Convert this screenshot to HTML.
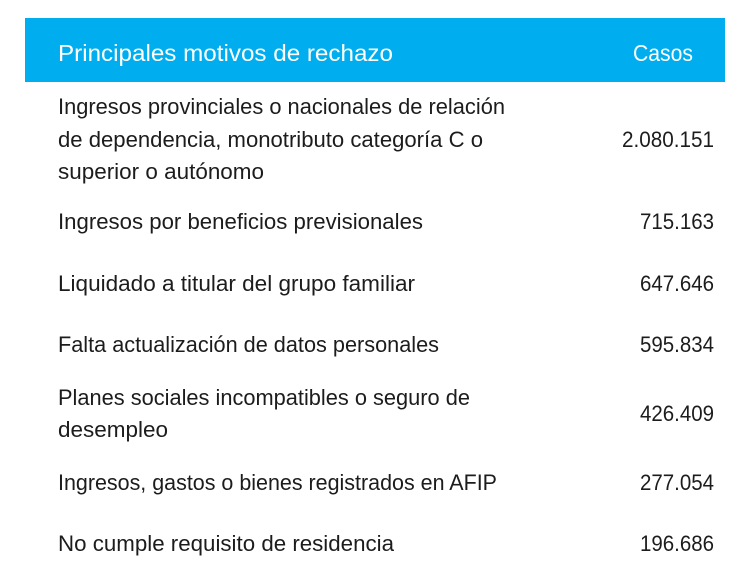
<!DOCTYPE html>
<html><head><meta charset="utf-8"><style>
html,body{margin:0;padding:0;background:#fff;}
svg{display:block;}
text{font-family:"Liberation Sans",sans-serif;font-size:22px;fill:#1c1c1c;}
</style></head><body>
<svg width="750" height="583" viewBox="0 0 750 583">
<rect x="0" y="0" width="750" height="583" fill="#fff"/>
<rect x="25" y="18" width="700" height="64" fill="#00aeef"/>
<text x="58" y="61" textLength="335" lengthAdjust="spacingAndGlyphs" style="fill:#fff;font-size:23px">Principales motivos de rechazo</text>
<text x="633" y="61" textLength="60" lengthAdjust="spacingAndGlyphs" style="fill:#fff;font-size:23px">Casos</text>

<text x="58" y="114" textLength="447" lengthAdjust="spacingAndGlyphs">Ingresos provinciales o nacionales de relación</text>
<text x="58" y="147" textLength="425" lengthAdjust="spacingAndGlyphs">de dependencia, monotributo categoría C o</text>
<text x="58" y="179" textLength="206" lengthAdjust="spacingAndGlyphs">superior o autónomo</text>
<text x="622" y="147" textLength="92" lengthAdjust="spacingAndGlyphs">2.080.151</text>

<text x="58" y="229" textLength="365" lengthAdjust="spacingAndGlyphs">Ingresos por beneficios previsionales</text>
<text x="640" y="229" textLength="74" lengthAdjust="spacingAndGlyphs">715.163</text>

<text x="58" y="291" textLength="357" lengthAdjust="spacingAndGlyphs">Liquidado a titular del grupo familiar</text>
<text x="640" y="291" textLength="74" lengthAdjust="spacingAndGlyphs">647.646</text>

<text x="58" y="352" textLength="381" lengthAdjust="spacingAndGlyphs">Falta actualización de datos personales</text>
<text x="640" y="352" textLength="74" lengthAdjust="spacingAndGlyphs">595.834</text>

<text x="58" y="405" textLength="412" lengthAdjust="spacingAndGlyphs">Planes sociales incompatibles o seguro de</text>
<text x="58" y="437" textLength="110" lengthAdjust="spacingAndGlyphs">desempleo</text>
<text x="640" y="421" textLength="74" lengthAdjust="spacingAndGlyphs">426.409</text>

<text x="58" y="490" textLength="439" lengthAdjust="spacingAndGlyphs">Ingresos, gastos o bienes registrados en AFIP</text>
<text x="640" y="490" textLength="74" lengthAdjust="spacingAndGlyphs">277.054</text>

<text x="58" y="551" textLength="336" lengthAdjust="spacingAndGlyphs">No cumple requisito de residencia</text>
<text x="640" y="551" textLength="74" lengthAdjust="spacingAndGlyphs">196.686</text>
</svg>
</body></html>
